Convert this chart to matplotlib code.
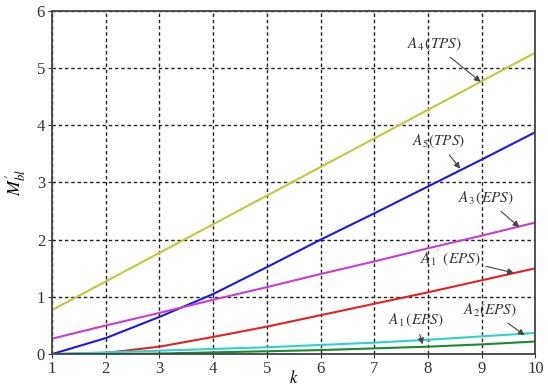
import matplotlib
matplotlib.use("Agg")
import matplotlib.pyplot as plt
import numpy as np

plt.rcParams['font.family'] = ['Liberation Serif', 'DejaVu Serif']
plt.rcParams['mathtext.fontset'] = 'stix'

k = [1, 2, 3, 4, 5, 6, 7, 8, 9, 10]

a4_tps = [0.77, 1.27, 1.77, 2.27, 2.77, 3.27, 3.77, 4.27, 4.77, 5.27]
a5_tps = [0.0, 0.28, 0.65, 1.05, 1.52, 2.0, 2.46, 2.93, 3.40, 3.88]
a3_eps = [0.27, 0.50, 0.72, 0.95, 1.17, 1.40, 1.62, 1.85, 2.07, 2.30]
a1p_eps = [0.0, 0.02, 0.13, 0.30, 0.48, 0.68, 0.88, 1.08, 1.29, 1.50]
a2_eps = [0.0, 0.03, 0.06, 0.09, 0.12, 0.16, 0.20, 0.25, 0.31, 0.37]
a1_eps = [0.0, 0.0, 0.01, 0.03, 0.05, 0.07, 0.10, 0.13, 0.17, 0.22]

series = [
    (a4_tps, '#c2c83c'),
    (a5_tps, '#1a1ae0'),
    (a3_eps, '#c83cd2'),
    (a1p_eps, '#e82020'),
    (a2_eps, '#30d0d0'),
    (a1_eps, '#1a8a2a'),
]

# label text, label position, arrow tip
notes = [
    (r'$A_4\,(TPS)$', (7.6, 5.42), (8.98, 4.76)),
    (r'$A_5(TPS)$', (7.7, 3.72), (8.6, 3.24)),
    (r'$A_3\,(EPS)$', (8.55, 2.73), (9.7, 2.22)),
    (r"$A_1{}^{'}\;(EPS)$", (7.85, 1.68), (9.6, 1.42)),
    (r'$A_2(EPS)$', (8.65, 0.77), (9.8, 0.33)),
    (r'$A_1\,(EPS)$', (7.25, 0.59), (7.9, 0.17)),
]

fig = plt.figure(figsize=(5.48, 3.87), dpi=100)
ax = fig.add_axes([0.095, 0.085, 0.882, 0.887])

for values, color in series:
    ax.plot(k, values, color=color, linewidth=1.5)

for text, xy_text, xy_tip in notes:
    ax.annotate(text, xy=xy_tip, xytext=xy_text, fontsize=11,
                ha='left', va='center', color='#333333',
                arrowprops=dict(arrowstyle='-|>', color='#444444', lw=0.8,
                                mutation_scale=9, shrinkA=2, shrinkB=0))

ax.set_xlim(1, 10)
ax.set_ylim(0, 6)
ax.set_xticks(range(1, 11))
ax.set_yticks(range(0, 7))
ax.grid(True, color='#222222', linestyle=(0, (2.5, 2)), linewidth=1.0)
for s in ax.spines.values():
    s.set_linewidth(1.3)
    s.set_color('#444444')
ax.tick_params(labelsize=12, length=3, pad=2, colors='#333333')
ax.set_xlabel(r'$k$', fontsize=12, labelpad=-5)
ax.set_ylabel(r"$M_{bl}'$", fontsize=13, labelpad=6)

fig.savefig('out.png', dpi=100)
